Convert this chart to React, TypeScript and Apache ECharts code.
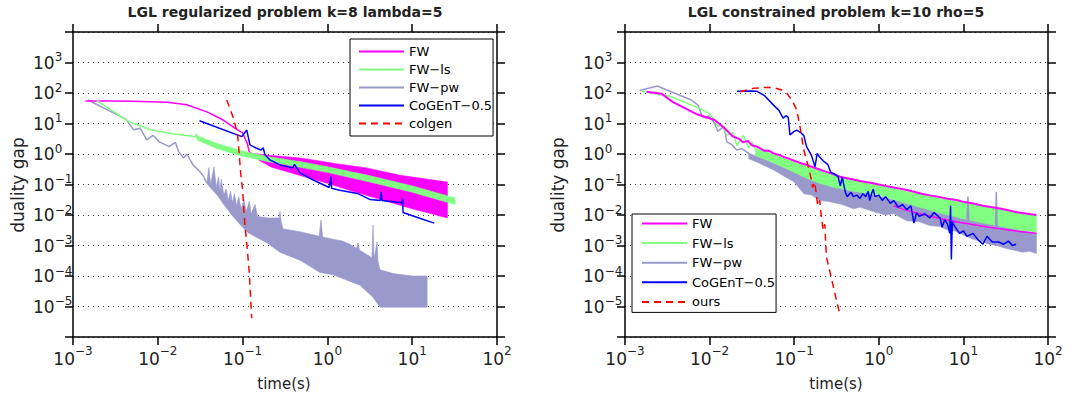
import React, { useEffect, useRef } from 'react';
import * as echarts from 'echarts';

type P = [number, number];

const FONT = 'DejaVu Sans';

// ---- axes (decade exponents, plotted on log10 scale) ----
const X_MIN_EXP = -3;
const X_MAX_EXP = 2;
const Y_MIN_EXP = -6;
const Y_MAX_EXP = 4;
const Y_LABEL_MIN_EXP = -5;
const Y_LABEL_MAX_EXP = 3;

const TITLE_LEFT = 'LGL regularized problem k=8 lambda=5';
const TITLE_RIGHT = 'LGL constrained problem k=10 rho=5';
const X_NAME = 'time(s)';
const Y_NAME = 'duality gap';
const LEGEND_LEFT = ['FW', 'FW\u2212ls', 'FW\u2212pw', 'CoGEnT\u22120.5', 'colgen'];
const LEGEND_RIGHT = ['FW', 'FW\u2212ls', 'FW\u2212pw', 'CoGEnT\u22120.5', 'ours'];

const C_FW = '#ff00ff';
const C_LS = '#80ff80';
const C_PW = '#9999cc';
const C_CG = '#0000ff';
const C_RED = '#ff0000';

// ================= LEFT PANEL (regularized) =================
const L_FW: P[] = [[0.0014, 55], [0.003, 55], [0.0051, 54], [0.0129, 50], [0.022, 41], [0.038, 24], [0.059, 13], [0.081, 7], [0.1, 4.9], [0.113, 2.3], [0.12, 1.15], [0.13, 1.0]];
const L_FW_UP: P[] = [[0.13, 1.05], [0.19, 0.93], [0.48, 0.74], [1.17, 0.5], [2.9, 0.35], [7.2, 0.2], [26, 0.12]];
const L_FW_LO: P[] = [[0.13, 0.95], [0.16, 0.6], [0.22, 0.37], [0.5, 0.19], [1, 0.11], [1.86, 0.063], [5, 0.028], [10, 0.016], [26, 0.008]];

const L_LS: P[] = [[0.0019, 56], [0.0046, 11.5], [0.0084, 6.1], [0.015, 4.6], [0.028, 3.7], [0.0283, 4.6], [0.029, 3.4]];
const L_LS_UP: P[] = [[0.029, 4.0], [0.05, 2.2], [0.1, 1.25], [0.2, 0.82], [0.5, 0.55], [1, 0.38], [3, 0.2], [10, 0.09], [32, 0.036]];
const L_LS_LO: P[] = [[0.029, 2.9], [0.05, 1.5], [0.1, 0.85], [0.2, 0.56], [0.5, 0.36], [1, 0.25], [3, 0.125], [10, 0.056], [32, 0.022]];

const L_PW: P[] = [[0.0015, 59], [0.0042, 13.9], [0.0052, 6.2], [0.0062, 7], [0.0074, 2.9], [0.0088, 4.1], [0.0104, 2.5], [0.0136, 1.75], [0.0161, 2.4], [0.0176, 1.2], [0.0201, 0.74], [0.022, 1.0], [0.026, 0.44], [0.031, 0.27], [0.035, 0.18]];
const L_PW_UP: P[] = [[0.035, 0.18], [0.038, 0.12], [0.04, 0.36], [0.042, 0.1], [0.046, 0.38], [0.049, 0.08], [0.052, 0.18], [0.054, 0.06], [0.056, 0.15], [0.06, 0.045], [0.064, 0.07], [0.068, 0.03], [0.072, 0.06], [0.076, 0.025], [0.08, 0.05], [0.085, 0.02], [0.09, 0.04], [0.096, 0.016], [0.104, 0.032], [0.11, 0.013], [0.12, 0.028], [0.126, 0.011], [0.14, 0.022], [0.15, 0.009], [0.2, 0.008], [0.27, 0.008], [0.276, 0.013], [0.285, 0.006], [0.3, 0.0035], [0.48, 0.0028], [0.8, 0.002], [0.84, 0.0069], [0.88, 0.0019], [1.16, 0.0016], [1.5, 0.0014], [1.85, 0.0011], [2.2, 0.0008], [2.3, 0.0012], [2.4, 0.0007], [2.93, 0.0005], [3.35, 0.0004], [3.45, 0.0047], [3.55, 0.00035], [3.85, 0.0013], [3.95, 0.0003], [4.17, 0.00016], [6, 0.00012], [10, 0.0001], [15, 0.0001]];
const L_PW_LO: P[] = [[0.035, 0.15], [0.04, 0.09], [0.05, 0.045], [0.06, 0.022], [0.077, 0.009], [0.1, 0.004], [0.116, 0.0026], [0.195, 0.0012], [0.276, 0.0006], [0.475, 0.00033], [0.82, 0.00013], [1.16, 0.00011], [2.42, 5e-5], [3.45, 2e-5], [4.17, 9.5e-6], [15, 9.5e-6]];

const L_CG: P[] = [[0.031, 12.3], [0.098, 3.7], [0.112, 6.1], [0.122, 2.0], [0.146, 1.54], [0.165, 1.35], [0.175, 1.6], [0.183, 0.97], [0.21, 0.64], [0.276, 0.44], [0.39, 0.35], [0.41, 0.46], [0.475, 0.24], [0.62, 0.16], [0.68, 0.14], [0.82, 0.11], [1.05, 0.08], [1.1, 0.18], [1.12, 0.075], [1.4, 0.065], [2.26, 0.051], [3.2, 0.032], [4.2, 0.03], [4.3, 0.056], [4.4, 0.03], [5.3, 0.028], [7.6, 0.025], [7.7, 0.035], [7.8, 0.012], [12.5, 0.0077], [18.2, 0.0054]];
const L_RED: P[] = [[0.065, 59], [0.077, 16.5], [0.087, 4.8], [0.091, 1.07], [0.095, 0.23], [0.1, 0.066], [0.106, 0.0054], [0.113, 0.0009], [0.12, 0.000123], [0.128, 4.1e-6]];

// ================= RIGHT PANEL (constrained) =================
const R_FW: P[] = [[0.0018, 110], [0.0027, 95], [0.0037, 50], [0.0071, 20], [0.0115, 13], [0.015, 7], [0.019, 3.7], [0.022, 3.2], [0.025, 2.4], [0.028, 2.7], [0.032, 1.9], [0.036, 1.75], [0.04, 1.5], [0.045, 1.25], [0.05, 1.3], [0.057, 1.05], [0.065, 0.95], [0.075, 0.8], [0.085, 0.72], [0.1, 0.6], [0.12, 0.5], [0.14, 0.44], [0.17, 0.36], [0.2, 0.31], [0.25, 0.25], [0.3, 0.21], [0.35, 0.18], [0.42, 0.16], [0.5, 0.145], [0.6, 0.13], [0.7, 0.12], [0.86, 0.11], [1, 0.1], [1.2, 0.09], [1.5, 0.08], [1.8, 0.072], [2.14, 0.066], [2.6, 0.058], [3.2, 0.05], [4, 0.044], [5, 0.04], [6.5, 0.034], [8.3, 0.031], [10, 0.027], [13, 0.024], [17, 0.02], [22, 0.018], [28, 0.016], [35, 0.014], [45, 0.012], [57, 0.011], [73, 0.01]];
const R_FW_LOW: P[] = [[1.5, 0.02], [2, 0.015], [3, 0.011], [5, 0.008], [7, 0.0065], [10, 0.0055], [15, 0.0045], [20, 0.004], [30, 0.0034], [45, 0.0029], [73, 0.0025]];

const R_LS: P[] = [[0.0016, 115], [0.0035, 75], [0.0069, 35], [0.0098, 22], [0.0115, 13], [0.0125, 8], [0.014, 9], [0.016, 4.2], [0.019, 5], [0.021, 1.9], [0.025, 4], [0.029, 1.6], [0.032, 2.4], [0.035, 1.3]];
const R_LS_UP: P[] = [[0.035, 1.5], [0.05, 1.1], [0.07, 0.8], [0.1, 0.55], [0.14, 0.4], [0.2, 0.29], [0.3, 0.2], [0.5, 0.135], [1, 0.092], [2, 0.061], [5, 0.037], [10, 0.025], [20, 0.018], [40, 0.013], [73, 0.0092]];
const R_LS_LO: P[] = [[0.035, 0.9], [0.05, 0.6], [0.07, 0.4], [0.1, 0.25], [0.14, 0.16], [0.2, 0.11], [0.3, 0.08], [0.5, 0.06], [1, 0.045], [2, 0.025], [5, 0.012], [10, 0.0075], [20, 0.005], [40, 0.0035], [73, 0.0027]];

const R_PW: P[] = [[0.0015, 120], [0.0024, 170], [0.0061, 59], [0.0073, 40], [0.0082, 16.6], [0.009, 15], [0.0098, 18], [0.0115, 10], [0.0125, 5.5], [0.0148, 8], [0.016, 2.5], [0.0185, 2.0], [0.0208, 1.35], [0.024, 1.5], [0.029, 1.05]];
const R_PW_UP: P[] = [[0.029, 1.05], [0.036, 0.85], [0.057, 0.5], [0.1, 0.26], [0.15, 0.17], [0.2, 0.12], [0.3, 0.085], [0.5, 0.065], [0.86, 0.046], [2, 0.026], [5, 0.014], [10, 0.0085], [20, 0.0055], [40, 0.0035], [73, 0.0025]];
const R_PW_LO: P[] = [[0.029, 0.7], [0.036, 0.55], [0.057, 0.3], [0.1, 0.12], [0.13, 0.05], [0.16, 0.045], [0.2, 0.03], [0.25, 0.028], [0.37, 0.022], [0.5, 0.016], [0.6, 0.018], [0.86, 0.013], [1.2, 0.01], [1.5, 0.011], [2.14, 0.0065], [3, 0.006], [4, 0.0045], [5.3, 0.0042], [6.5, 0.0032], [8, 0.003], [10, 0.0022], [13, 0.0016], [16, 0.0014], [20, 0.0011], [25, 0.001], [32, 0.0008], [40, 0.0007], [50, 0.0006], [60, 0.00065], [73, 0.00055]];
const R_PW_SPIKE1: P[] = [[11.0, 0.006], [11.3, 0.04], [11.6, 0.006]];
const R_PW_SPIKE2: P[] = [[24.0, 0.004], [24.5, 0.057], [25.0, 0.004]];

const R_CG: P[] = [[0.021, 115], [0.03, 117], [0.036, 115], [0.045, 80], [0.057, 40], [0.066, 27], [0.074, 15], [0.08, 18], [0.085, 16], [0.089, 4.2], [0.1, 5.5], [0.107, 6.1], [0.12, 5], [0.13, 4], [0.14, 1.75], [0.16, 0.9], [0.176, 0.38], [0.187, 1.05], [0.2, 0.8], [0.22, 0.6], [0.25, 0.45], [0.27, 0.25], [0.3, 0.22], [0.33, 0.18], [0.35, 0.09], [0.37, 0.17], [0.4, 0.06], [0.42, 0.04], [0.47, 0.055], [0.5, 0.04], [0.55, 0.045], [0.6, 0.035], [0.65, 0.05], [0.7, 0.04], [0.75, 0.06], [0.78, 0.03], [0.82, 0.05], [0.86, 0.07], [0.9, 0.04], [1, 0.045], [1.1, 0.03], [1.2, 0.04], [1.37, 0.024], [1.5, 0.03], [1.7, 0.018], [1.9, 0.022], [2.14, 0.015], [2.4, 0.02], [2.6, 0.0054], [2.8, 0.012], [3, 0.009], [3.5, 0.011], [4, 0.008], [4.5, 0.012], [5.3, 0.008], [5.6, 0.004], [6, 0.007], [6.5, 0.005], [6.9, 0.0025], [7.05, 0.02], [7.2, 0.00035], [7.4, 0.006], [8, 0.004], [9, 0.0025], [10, 0.003], [11, 0.002], [13, 0.0025], [15, 0.0015], [17, 0.0011], [19, 0.002], [22, 0.0013], [26, 0.0013], [30, 0.0011], [34, 0.0014], [38, 0.001], [42, 0.0011]];
const R_RED: P[] = [[0.023, 110], [0.033, 142], [0.045, 152], [0.057, 150], [0.07, 128], [0.082, 98], [0.095, 55], [0.107, 28], [0.117, 8], [0.13, 1.35], [0.147, 0.38], [0.16, 0.14], [0.165, 0.08], [0.175, 0.12], [0.19, 0.02], [0.2, 0.03], [0.21, 0.0085], [0.22, 0.0032], [0.23, 0.005], [0.24, 0.00043], [0.29, 4.5e-5], [0.34, 6.8e-6]];

// ---- helpers ----
// the axes are linear in log10 space; values are converted to decades
const toLog = (pts: P[]): P[] => pts.map(([x, y]) => [Math.log10(x), Math.log10(y)] as P);
const supText = (e: number) => (e < 0 ? '\u2212' + -e : String(e));
const fmtX = (v: number) => `{b|10}{s|${supText(Math.round(v))}}`;
const fmtY = (v: number) => {
  const e = Math.round(v);
  if (e < Y_LABEL_MIN_EXP || e > Y_LABEL_MAX_EXP) return '';
  return `{b|10}{s|${supText(e)}}`;
};
const richFor = (basePad: number) => ({
  b: { fontSize: 17, lineHeight: 17, padding: [basePad, 0, 0, 0], fontFamily: FONT, color: '#222' },
  s: { fontSize: 12, lineHeight: 12, verticalAlign: 'top', fontFamily: FONT, color: '#222' },
});
const RICH_X = richFor(10);
const RICH_Y = richFor(6);

const AX_LINE = { show: true, onZero: false, lineStyle: { color: '#000', width: 1.5 } };
const AX_TICK = { show: true, inside: false, length: 8, lineStyle: { color: '#000', width: 1.5 } };

function xAxes(gi: number) {
  const base = { type: 'value', gridIndex: gi, min: X_MIN_EXP, max: X_MAX_EXP, interval: 1, axisLine: AX_LINE, axisTick: AX_TICK, splitLine: { show: false }, minorTick: { show: false } };
  return [
    { ...base, position: 'bottom', axisLabel: { formatter: fmtX, rich: RICH_X, margin: 8 } },
    { ...base, position: 'top', axisLabel: { show: false } },
  ];
}
function yAxes(gi: number, labelMargin: number) {
  const base = { type: 'value', gridIndex: gi, min: Y_MIN_EXP, max: Y_MAX_EXP, interval: 1, axisLine: AX_LINE, axisTick: AX_TICK, minorTick: { show: false } };
  return [
    { ...base, position: 'left', axisLabel: { formatter: fmtY, rich: RICH_Y, margin: labelMargin, align: 'left', padding: [0, 0, 6, 0] }, splitLine: { show: true, lineStyle: { color: '#444', width: 1, type: [1, 4] } } },
    { ...base, position: 'right', axisLabel: { show: false }, splitLine: { show: false } },
  ];
}

function line(name: string, ai: number, data: P[], color: string, width: number, z: number, dashed = false) {
  return {
    type: 'line', name, xAxisIndex: ai, yAxisIndex: ai, data: toLog(data), symbol: 'none', showSymbol: false, silent: true, z,
    lineStyle: { color, width, type: dashed ? [7, 5] : 'solid' }, itemStyle: { color },
  };
}
function band(name: string, ai: number, up: P[], lo: P[], color: string, z: number) {
  const poly: P[] = toLog([...up, ...lo.slice().reverse()]);
  return {
    type: 'custom', name, xAxisIndex: ai, yAxisIndex: ai, z, silent: true,
    data: [poly[0]],
    renderItem: (_p: any, api: any) => ({
      type: 'polygon',
      shape: { points: poly.map((p) => api.coord(p)) },
      style: { fill: color, stroke: color, lineWidth: 0.6 },
    }),
  };
}

function legend(names: string[], left: number, top: number, gap: number, padding: number[]) {
  return {
    orient: 'vertical', left, top, data: names, itemWidth: 45, itemHeight: 12, itemGap: gap, padding,
    backgroundColor: '#fff', borderColor: '#000', borderWidth: 1, borderRadius: 0, selectedMode: false,
    itemStyle: { opacity: 0 },
    textStyle: { fontFamily: FONT, fontSize: 13, color: '#000' },
  };
}

function buildOption() {
  const txt = (text: string, x: number, y: number, font: string, rotation = 0) => ({
    type: 'text', x, y, rotation, silent: true,
    style: { text, font, fill: '#222', textAlign: 'center', textVerticalAlign: 'middle' },
  });
  return {
    animation: false,
    backgroundColor: '#fff',
    grid: [
      { left: 73, top: 32, width: 424, height: 305, containLabel: false },
      { left: 625, top: 32, width: 423, height: 305, containLabel: false },
    ],
    xAxis: [...xAxes(0), ...xAxes(1)],
    yAxis: [...yAxes(0, 40), ...yAxes(1, 42)],
    legend: [legend(LEGEND_LEFT, 350, 39, 5, [6, 1, 6, 8]), legend(LEGEND_RIGHT, 632, 214, 6.6, [3, 1, 4, 9])],
    graphic: [
      txt(TITLE_LEFT, 285, 12, `bold 14px "${FONT}"`),
      txt(TITLE_RIGHT, 836, 12, `bold 14px "${FONT}"`),
      txt(X_NAME, 284, 384, `15px "${FONT}"`),
      txt(X_NAME, 836, 384, `15px "${FONT}"`),
      txt(Y_NAME, 18, 185, `17px "${FONT}"`, Math.PI / 2),
      txt(Y_NAME, 558, 185, `17px "${FONT}"`, Math.PI / 2),
    ],
    series: [
      // left
      line('FW', 0, L_FW, C_FW, 1.5, 3),
      band('FW band L', 0, L_FW_UP, L_FW_LO, C_FW, 3),
      line('FW\u2212ls', 0, L_LS, C_LS, 1.5, 4),
      band('FW-ls band L', 0, L_LS_UP, L_LS_LO, C_LS, 4),
      line('FW\u2212pw', 0, L_PW, C_PW, 1.5, 2),
      band('FW-pw band L', 0, L_PW_UP, L_PW_LO, C_PW, 2),
      line('CoGEnT\u22120.5', 0, L_CG, C_CG, 1.5, 6),
      line('colgen', 0, L_RED, C_RED, 1.5, 7, true),
      // right
      band('FW-pw band R', 2, R_PW_UP, R_PW_LO, C_PW, 2),
      line('FW\u2212pw', 2, R_PW, C_PW, 1.5, 3),
      band('FW-ls band R', 2, R_LS_UP, R_LS_LO, C_LS, 3),
      line('FW\u2212ls', 2, R_LS, C_LS, 1.5, 3),
      line('FW-pw spike a', 2, R_PW_SPIKE1, C_PW, 1.5, 4),
      line('FW-pw spike b', 2, R_PW_SPIKE2, C_PW, 1.5, 4),
      line('FW', 2, R_FW, C_FW, 2, 4),
      line('FW low', 2, R_FW_LOW, C_FW, 1.5, 4),
      line('CoGEnT\u22120.5', 2, R_CG, C_CG, 1.5, 6),
      line('ours', 2, R_RED, C_RED, 1.5, 7, true),
    ],
  };
}

export default function App() {
  const ref = useRef<HTMLDivElement>(null);
  useEffect(() => {
    const chart = echarts.init(ref.current as HTMLDivElement, null, { renderer: 'svg' });
    chart.setOption(buildOption() as any);
    return () => chart.dispose();
  }, []);
  return <div ref={ref} style={{ position: 'fixed', left: 0, top: 0, width: 1080, height: 396, background: '#fff' }} />;
}
